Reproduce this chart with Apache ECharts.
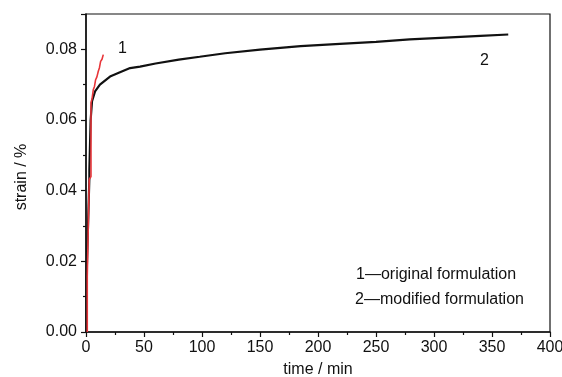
<!DOCTYPE html>
<html>
<head>
<meta charset="utf-8">
<script src="https://cdn.jsdelivr.net/npm/echarts@6/dist/echarts.min.js"></script>
<style>
  html, body { margin: 0; padding: 0; background: #fff; }
  #chart { width: 562px; height: 377px; }
</style>
</head>
<body>
<div id="chart"></div>
<script>
// curve 1 (original formulation), red
const origTime = [1.1, 1.1, 2.8, 2.8, 4.3, 4.3, 5.3, 6.3, 7.3, 8.3, 9.4, 10.6, 11.6, 12.6, 13.8, 14.9];
const origStrain = [0, 0.0156, 0.0156, 0.0432, 0.0440, 0.0649, 0.0662, 0.0686, 0.0695, 0.0714, 0.0722, 0.0738, 0.0748, 0.0766, 0.0772, 0.0785];

// curve 2 (modified formulation), black
const modTime = [0.5, 0.5, 2, 2.9, 2.9, 4, 5.2, 7.8, 12, 20.7, 29.3, 38, 46.6, 60, 80, 98, 120, 150, 185, 215, 250, 279, 310, 340, 364];
const modStrain = [0, 0.0156, 0.0156, 0.0436, 0.046, 0.060, 0.0653, 0.0681, 0.0700, 0.0723, 0.0735, 0.0747, 0.0751, 0.0760, 0.0771, 0.0779, 0.0789, 0.0799, 0.0809, 0.0815, 0.0821, 0.0828, 0.0833, 0.0838, 0.0842];

const legendLines = ["1\u2014original formulation", "2\u2014modified formulation"];

const FONT = "Liberation Sans, Arial, sans-serif";
const chart = echarts.init(document.getElementById("chart"));

const zip = (xs, ys) => xs.map((x, i) => [x, ys[i]]);

chart.setOption({
  animation: false,
  grid: {
    left: 86, right: 12, top: 14, bottom: 45,
    outerBoundsMode: "none",
    containLabel: false,
    show: true, borderColor: "#111", borderWidth: 1.2
  },
  xAxis: {
    type: "value",
    min: 0, max: 400, interval: 50,
    name: "time / min",
    nameLocation: "center",
    nameGap: 30,
    nameTextStyle: { fontFamily: FONT, fontSize: 16, color: "#111" },
    axisLine: { show: true, lineStyle: { color: "#111", width: 1.5 } },
    axisTick: { show: true, length: 5, lineStyle: { color: "#111", width: 1.2 } },
    minorTick: { show: true, splitNumber: 2, length: 3, lineStyle: { color: "#111", width: 1.2 } },
    splitLine: { show: false },
    axisLabel: { fontFamily: FONT, fontSize: 16, color: "#111", margin: 8 }
  },
  yAxis: {
    type: "value",
    min: 0, max: 0.09, interval: 0.02,
    axisLine: { show: true, lineStyle: { color: "#111", width: 1.5 } },
    axisTick: { show: true, length: 5, lineStyle: { color: "#111", width: 1.2 } },
    minorTick: { show: true, splitNumber: 2, length: 3, lineStyle: { color: "#111", width: 1.2 } },
    splitLine: { show: false },
    axisLabel: {
      fontFamily: FONT, fontSize: 16, color: "#111", margin: 9,
      showMaxLabel: false,
      formatter: (v) => v.toFixed(2)
    }
  },
  series: [
    {
      name: "modified",
      type: "line",
      data: zip(modTime, modStrain),
      showSymbol: false,
      lineStyle: { color: "#111", width: 2.2 },
      z: 2
    },
    {
      name: "original",
      type: "line",
      data: zip(origTime, origStrain),
      showSymbol: false,
      lineStyle: { color: "#e8363a", width: 1.6 },
      z: 3
    }
  ],
  graphic: [
    {
      type: "text", x: 22, y: 177, rotation: Math.PI / 2,
      style: { text: "strain / %", font: "16px " + FONT, fill: "#111", textAlign: "center", textVerticalAlign: "middle" }
    },
    { type: "text", left: 118, top: 41, style: { text: "1", font: "16px " + FONT, fill: "#111" } },
    { type: "text", left: 480, top: 53, style: { text: "2", font: "16px " + FONT, fill: "#111" } },
    { type: "text", left: 356, top: 267, style: { text: legendLines[0], font: "16px " + FONT, fill: "#111" } },
    { type: "text", left: 355, top: 292, style: { text: legendLines[1], font: "16px " + FONT, fill: "#111" } }
  ]
});
</script>
</body>
</html>
